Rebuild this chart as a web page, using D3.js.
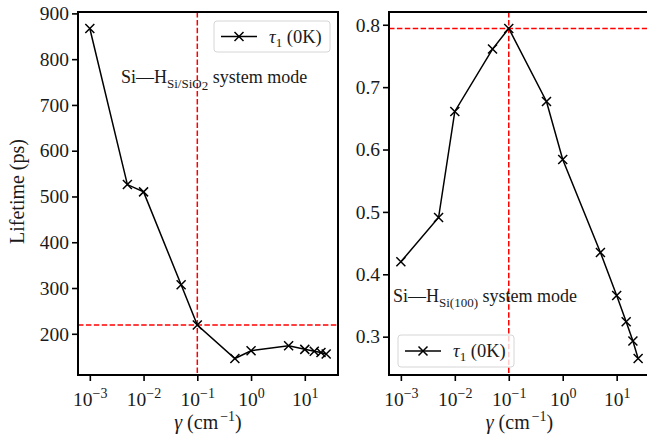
<!DOCTYPE html>
<html>
<head>
<meta charset="utf-8">
<script src="https://cdn.jsdelivr.net/npm/d3@7"></script>
<style>
  html, body { margin: 0; padding: 0; background: #fff; }
</style>
</head>
<body>
<svg id="fig" width="647" height="441"></svg>
<script>
// Damping parameter gamma (cm^-1) shared by both panels
const gamma = [0.001, 0.005, 0.01, 0.05, 0.1, 0.5, 1, 5, 10, 15, 20, 25];
// tau_1 lifetimes at 0 K
const tauSiSiO2 = [867, 526, 510, 307, 219, 146, 163, 174, 166, 162, 159, 156];
const tauSi100 = [0.420, 0.491, 0.661, 0.761, 0.794, 0.677, 0.584, 0.435, 0.366, 0.324, 0.293, 0.265];
// Reference markers (dashed red lines)
const gammaRef = 0.1;
const tauRefSiSiO2 = 219;
const tauRefSi100 = 0.794;
// Tick values
const xTickExps = [-3, -2, -1, 0, 1];
const yTicksLeft = [200, 300, 400, 500, 600, 700, 800, 900];
const yTicksRight = [0.3, 0.4, 0.5, 0.6, 0.7, 0.8];
const legendLabel = "τ";

const FONT = "'Liberation Serif', 'Times New Roman', 'DejaVu Serif', serif";
const INK = "#1a1a1a";
const svg = d3.select("#fig");

function padDomain(lo, hi, frac) {
  const m = (hi - lo) * frac;
  return [lo - m, hi + m];
}

function txt(sel, size) {
  return sel.attr("font-family", FONT).style("font-family", FONT)
    .style("font-size", size + "px").attr("fill", INK);
}

function drawPanel(opt) {
  const g = svg.append("g");
  const lx = d3.extent(gamma).map(Math.log10);
  const ld = padDomain(lx[0], lx[1], 0.05);
  const x = d3.scaleLog().domain([Math.pow(10, ld[0]), Math.pow(10, ld[1])])
    .range([opt.x0, opt.x1]);
  const ye = d3.extent(opt.values);
  const y = d3.scaleLinear().domain(padDomain(ye[0], ye[1], 0.05)).range([opt.y1, opt.y0]);

  const clipId = "clip" + opt.id;
  svg.append("clipPath").attr("id", clipId).append("rect")
    .attr("x", opt.x0).attr("y", opt.y0)
    .attr("width", opt.x1 - opt.x0).attr("height", opt.y1 - opt.y0);

  const plot = g.append("g").attr("clip-path", `url(#${clipId})`);

  // Reference lines
  plot.append("line")
    .attr("x1", x(gammaRef)).attr("x2", x(gammaRef))
    .attr("y1", opt.y0).attr("y2", opt.y1)
    .attr("stroke", "#ff0000").attr("stroke-width", 1.5)
    .attr("stroke-dasharray", "5.5,2.4");
  plot.append("line")
    .attr("x1", opt.x0).attr("x2", opt.x1)
    .attr("y1", y(opt.ref)).attr("y2", y(opt.ref))
    .attr("stroke", "#ff0000").attr("stroke-width", 1.5)
    .attr("stroke-dasharray", "5.5,2.4");

  // Data line
  const pts = gamma.map((gm, i) => [x(gm), y(opt.values[i])]);
  plot.append("path")
    .attr("d", d3.line()(pts))
    .attr("fill", "none").attr("stroke", "#000").attr("stroke-width", 1.5);

  // X markers
  const s = 4.5;
  plot.selectAll("path.mk").data(pts).join("path")
    .attr("class", "mk")
    .attr("d", d => `M${d[0]-s},${d[1]-s}L${d[0]+s},${d[1]+s}M${d[0]-s},${d[1]+s}L${d[0]+s},${d[1]-s}`)
    .attr("stroke", "#000").attr("stroke-width", 1.5).attr("fill", "none");

  // Axes
  const xAxis = d3.axisBottom(x).tickValues(xTickExps.map(e => Math.pow(10, e)))
    .tickSize(6).tickPadding(5).tickFormat("");
  const gx = g.append("g").attr("transform", `translate(0,${opt.y1})`).call(xAxis);
  gx.select(".domain").remove();
  gx.selectAll(".tick line").attr("stroke", "#000").attr("stroke-width", 1.6);
  gx.selectAll(".tick text").remove();
  gx.selectAll(".tick").each(function(d) {
    const e = Math.round(Math.log10(d));
    const t = txt(d3.select(this).append("text"), 19.5)
      .attr("y", 31).attr("text-anchor", "middle");
    t.append("tspan").text("10");
    t.append("tspan").attr("dy", -8).style("font-size", "14px")
      .text(e < 0 ? "\u2212" + Math.abs(e) : String(e));
  });

  const yAxis = d3.axisLeft(y).tickValues(opt.yTicks).tickSize(6).tickPadding(3)
    .tickFormat(opt.fmt);
  const gy = g.append("g").attr("transform", `translate(${opt.x0},0)`).call(yAxis);
  gy.select(".domain").remove();
  gy.selectAll(".tick line").attr("stroke", "#000").attr("stroke-width", 1.6);
  txt(gy.selectAll(".tick text"), 19.5);

  // Frame
  g.append("rect")
    .attr("x", opt.x0).attr("y", opt.y0)
    .attr("width", opt.x1 - opt.x0).attr("height", opt.y1 - opt.y0)
    .attr("fill", "none").attr("stroke", "#000").attr("stroke-width", 2);

  // X label
  const xl = txt(g.append("text"), 20)
    .attr("x", (opt.x0 + opt.x1) / 2).attr("y", 429)
    .attr("text-anchor", "middle");
  xl.append("tspan").style("font-style", "italic").text("γ");
  xl.append("tspan").text(" (cm");
  xl.append("tspan").attr("dx", 2).attr("dy", -8).style("font-size", "14px").text("\u22121");
  xl.append("tspan").attr("dy", 8).text(")");

  // Annotation
  const an = txt(g.append("text"), 18).attr("x", opt.ann.x).attr("y", opt.ann.y);
  an.append("tspan").text("Si—H");
  opt.ann.sub.forEach(p => {
    an.append("tspan").attr("dy", p.dy).style("font-size", p.size + "px").text(p.t);
  });
  an.append("tspan").attr("dy", opt.ann.back).text(" system mode");

  // Legend
  const L = opt.legend;
  const lg = g.append("g");
  lg.append("rect").attr("x", L.x).attr("y", L.y).attr("width", L.w).attr("height", L.h)
    .attr("rx", 3).attr("fill", "#fff").attr("fill-opacity", 0.8)
    .attr("stroke", "#d6d6d6").attr("stroke-width", 1);
  const ly = L.y + L.h / 2;
  lg.append("line").attr("x1", L.x + 7).attr("x2", L.x + 43).attr("y1", ly).attr("y2", ly)
    .attr("stroke", "#000").attr("stroke-width", 1.5);
  const mx = L.x + 25;
  lg.append("path")
    .attr("d", `M${mx-s},${ly-s}L${mx+s},${ly+s}M${mx-s},${ly+s}L${mx+s},${ly-s}`)
    .attr("stroke", "#000").attr("stroke-width", 1.5);
  const lt = txt(lg.append("text"), 18.5).attr("x", L.x + 55).attr("y", ly + 6);
  lt.append("tspan").style("font-style", "italic").text(legendLabel);
  lt.append("tspan").attr("dy", 4).style("font-size", "13px").text("1");
  lt.append("tspan").attr("dy", -4).text(" (0K)");
}

drawPanel({
  id: "L", x0: 78, x1: 338, y0: 12, y1: 375,
  values: tauSiSiO2, ref: tauRefSiSiO2, yTicks: yTicksLeft, fmt: d3.format("d"),
  ann: { x: 121, y: 83, sub: [{ t: "Si/SiO", dy: 5, size: 13 }, { t: "2", dy: 2, size: 13 }], back: -7 },
  legend: { x: 214, y: 21, w: 116, h: 31 }
});

drawPanel({
  id: "R", x0: 389, x1: 650, y0: 12, y1: 375,
  values: tauSi100, ref: tauRefSi100, yTicks: yTicksRight, fmt: d3.format(".1f"),
  ann: { x: 393, y: 302, sub: [{ t: "Si(100)", dy: 5, size: 13 }], back: -5 },
  legend: { x: 398, y: 335, w: 116, h: 32 }
});

// Shared y label
txt(svg.append("text"), 20)
  .attr("transform", `translate(24,${(12 + 375) / 2 - 2}) rotate(-90)`)
  .attr("text-anchor", "middle")
  .text("Lifetime (ps)");
</script>
</body>
</html>
